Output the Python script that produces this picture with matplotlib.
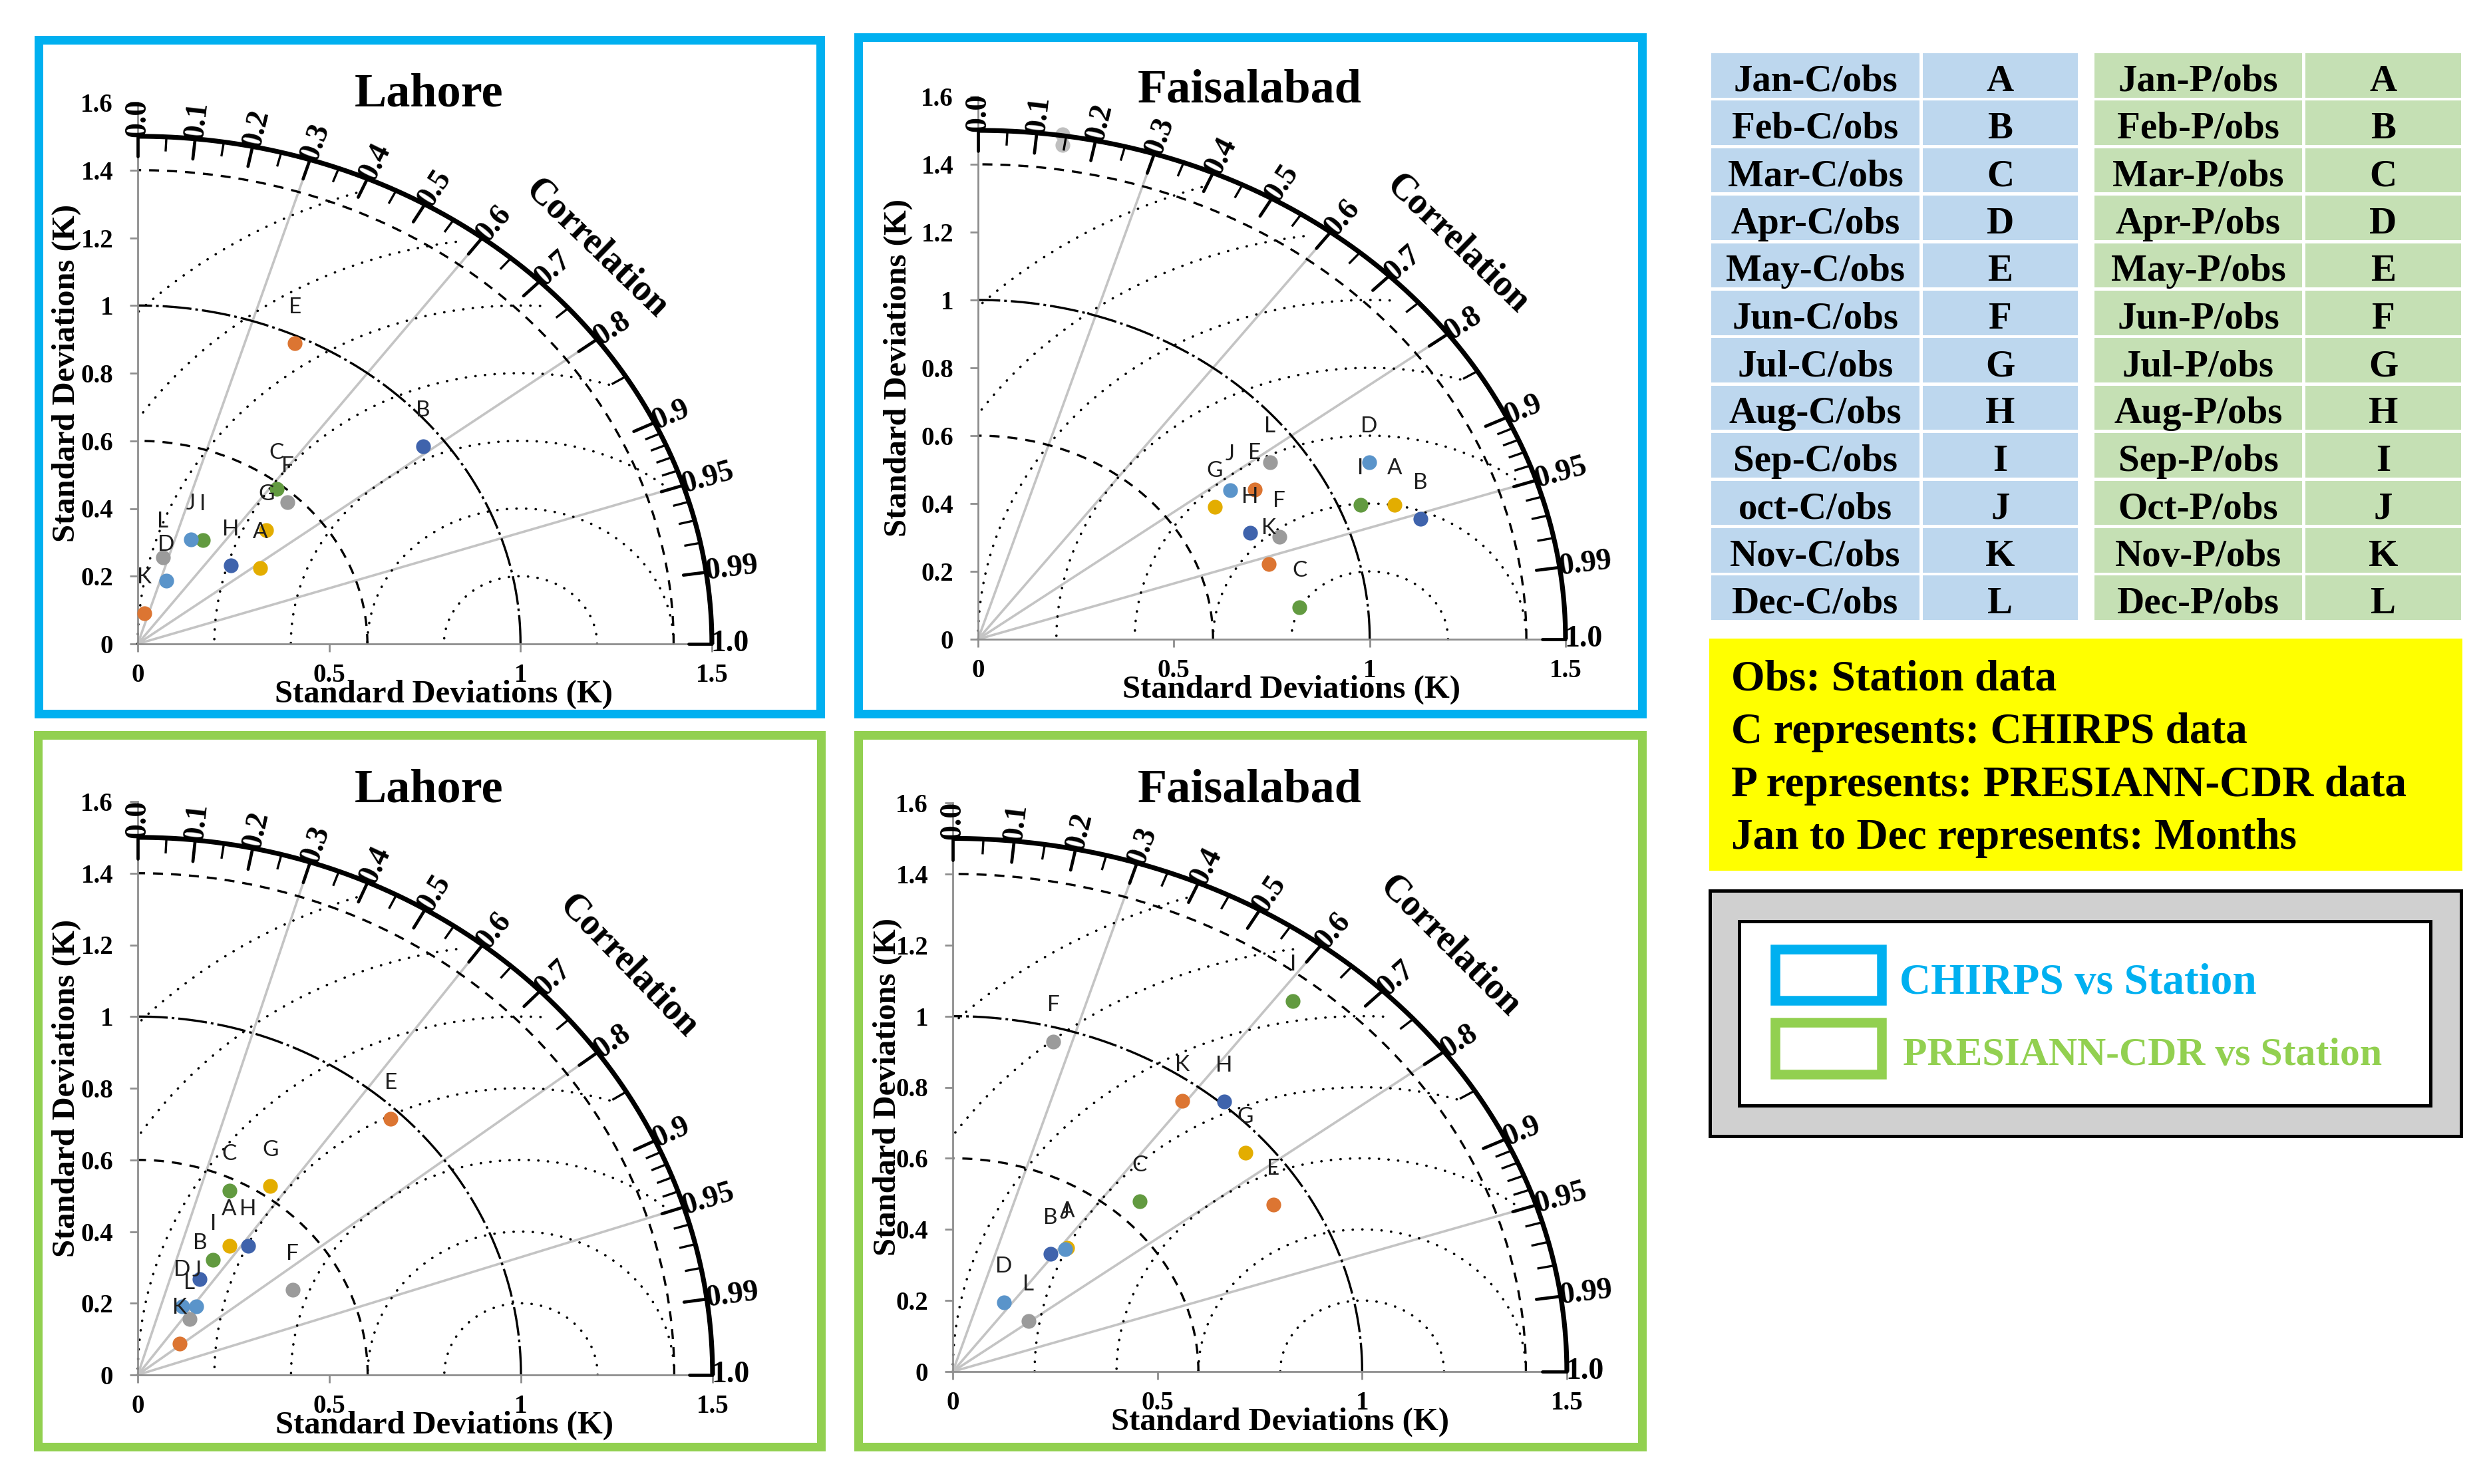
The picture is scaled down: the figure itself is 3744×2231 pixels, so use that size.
import numpy as np
import matplotlib
matplotlib.use("Agg")
import matplotlib.pyplot as plt
from matplotlib.patches import Rectangle

# Output size
W, H = 3744, 2231
DPI = 200
PT = 72.0 / DPI  # points per pixel

SERIF = "Liberation Serif"
SANS = "Lato"

# ---------------------------------------------------------------- data
letters = list("ABCDEFGHIJKL")
# marker colours repeat every six months (Excel palette order seen in the chart)
palette = {"yellow": "#E3AD00", "blue": "#3F63AC", "green": "#629A40",
           "lightblue": "#5A94CA", "orange": "#DC7532", "gray": "#9B9B9B"}
letter_colors = ["yellow", "blue", "green", "lightblue", "orange", "gray"] * 2

# points as (std*corr, std*sin(acos(corr))), months A..L
lahore_c_x = [0.320, 0.746, 0.363, 0.075, 0.411, 0.391, 0.336, 0.243, 0.170, 0.139, 0.017, 0.066]
lahore_c_y = [0.224, 0.583, 0.458, 0.187, 0.888, 0.418, 0.336, 0.232, 0.306, 0.308, 0.090, 0.255]

faisal_c_x = [1.063, 1.130, 0.821, 0.999, 0.706, 0.769, 0.604, 0.695, 0.976, 0.644, 0.743, 0.745]
faisal_c_y = [0.397, 0.355, 0.095, 0.522, 0.442, 0.301, 0.390, 0.314, 0.397, 0.439, 0.222, 0.522]
# two unlabelled light grey points near the top of the Faisalabad CHIRPS diagram
faisal_c_extra_x = [0.216, 0.216]
faisal_c_extra_y = [1.488, 1.457]

lahore_p_x = [0.239, 0.162, 0.239, 0.116, 0.660, 0.404, 0.346, 0.288, 0.197, 0.153, 0.109, 0.135]
lahore_p_y = [0.361, 0.267, 0.515, 0.192, 0.714, 0.237, 0.527, 0.361, 0.321, 0.191, 0.087, 0.155]

faisal_p_x = [0.280, 0.239, 0.456, 0.125, 0.783, 0.246, 0.715, 0.663, 0.831, 0.274, 0.560, 0.185]
faisal_p_y = [0.349, 0.331, 0.479, 0.194, 0.469, 0.929, 0.616, 0.759, 1.043, 0.345, 0.762, 0.143]

xticks = [0, 0.5, 1, 1.5]
xtick_labels = ["0", "0.5", "1", "1.5"]
yticks = [0, 0.2, 0.4, 0.6, 0.8, 1.0, 1.2, 1.4, 1.6]
ytick_labels = ["0", "0.2", "0.4", "0.6", "0.8", "1", "1.2", "1.4", "1.6"]

corr_major = [0.0, 0.1, 0.2, 0.3, 0.4, 0.5, 0.6, 0.7, 0.8, 0.9, 0.95, 0.99, 1.0]
corr_major_labels = ["0.0", "0.1", "0.2", "0.3", "0.4", "0.5", "0.6", "0.7",
                     "0.8", "0.9", "0.95", "0.99", "1.0"]
corr_minor = [0.05, 0.15, 0.25, 0.35, 0.45, 0.55, 0.65, 0.75, 0.85,
              0.91, 0.92, 0.93, 0.94, 0.96, 0.97, 0.98]
corr_rays = [0.3, 0.6, 0.8, 0.95]
rmsd_radii = [0.2, 0.4, 0.6, 0.8, 1.0, 1.2, 1.4]
std_arcs = [0.6, 1.0, 1.4]
std_max = 1.5

month_c = ["Jan-C/obs", "Feb-C/obs", "Mar-C/obs", "Apr-C/obs", "May-C/obs", "Jun-C/obs",
           "Jul-C/obs", "Aug-C/obs", "Sep-C/obs", "oct-C/obs", "Nov-C/obs", "Dec-C/obs"]
month_p = ["Jan-P/obs", "Feb-P/obs", "Mar-P/obs", "Apr-P/obs", "May-P/obs", "Jun-P/obs",
           "Jul-P/obs", "Aug-P/obs", "Sep-P/obs", "Oct-P/obs", "Nov-P/obs", "Dec-P/obs"]

notes = ["Obs: Station data", "C represents: CHIRPS data",
         "P represents: PRESIANN-CDR data", "Jan to Dec represents: Months"]
legend_labels = ["CHIRPS vs Station", "PRESIANN-CDR vs Station"]

BLUE_FRAME = "#00B0F0"
GREEN_FRAME = "#92D050"
AXIS_GRAY = "#8E8E8E"
RAY_GRAY = "#C4C4C4"


def draw_taylor(ax, xs, ys, ylabel_px, extra_x=(), extra_y=()):
    ax.set_xlim(0, 1.5)
    ax.set_ylim(0, 1.6)
    ax.set_facecolor("none")
    for s in ["top", "right"]:
        ax.spines[s].set_visible(False)
    for s in ["left", "bottom"]:
        ax.spines[s].set_color(AXIS_GRAY)
        ax.spines[s].set_linewidth(1.0)
    ax.set_xticks(xticks)
    ax.set_xticklabels(xtick_labels)
    ax.set_yticks(yticks)
    ax.set_yticklabels(ytick_labels)
    ax.tick_params(direction="out", length=4.3, width=1.0, color=AXIS_GRAY, labelsize=14)
    ax.tick_params(axis="x", pad=6)
    ax.tick_params(axis="y", pad=9)
    for lab in ax.get_xticklabels() + ax.get_yticklabels():
        lab.set_fontfamily(SERIF)
        lab.set_fontweight("bold")

    # RMSD arcs centred on the reference point (1, 0)
    R = 1.45
    for r in rmsd_radii:
        t0 = np.arccos(np.clip((R ** 2 - 1 - r ** 2) / (2 * r), -1, 1))
        t1 = np.arccos(np.clip(-1.0 / r, -1, 1))
        t = np.linspace(t0, t1, 300)
        ax.plot(1 + r * np.cos(t), r * np.sin(t), color="k", lw=1.3,
                ls=(0, (0.1, 3.9)), dash_capstyle="round", clip_on=False, zorder=2)

    # standard deviation arcs
    th = np.linspace(0, np.pi / 2, 400)
    styles = {0.6: (0, (4.5, 3.6)), 1.0: (0, (13, 1.8, 1.2, 1.8)), 1.4: (0, (4.5, 3.6))}
    for r in std_arcs:
        ax.plot(r * np.cos(th), r * np.sin(th), color="k", lw=1.2, ls=styles[r],
                clip_on=False, zorder=2)

    # correlation rays
    for c in corr_rays:
        a = np.arccos(c)
        ax.plot([0, 1.45 * np.cos(a)], [0, 1.45 * np.sin(a)], color=RAY_GRAY,
                lw=1.3, clip_on=False, zorder=1.5)

    # outer correlation axis
    ax.plot(std_max * np.cos(th), std_max * np.sin(th), color="k", lw=2.6,
            solid_capstyle="butt", clip_on=False, zorder=5)
    for c in corr_major:
        a = np.arccos(c)
        ax.plot([1.44 * np.cos(a), std_max * np.cos(a)], [1.44 * np.sin(a), std_max * np.sin(a)],
                color="k", lw=1.7, solid_capstyle="round", clip_on=False, zorder=5)
    for c in corr_minor:
        a = np.arccos(c)
        ax.plot([1.457 * np.cos(a), std_max * np.cos(a)], [1.457 * np.sin(a), std_max * np.sin(a)],
                color="k", lw=1.2, solid_capstyle="butt", clip_on=False, zorder=5)
    for c, lab in zip(corr_major, corr_major_labels):
        a = np.arccos(c)
        ax.text(1.497 * np.cos(a), 1.497 * np.sin(a), lab, rotation=np.degrees(a),
                transform_rotates_text=True, rotation_mode="anchor", ha="left", va="center",
                fontsize=16.5, fontfamily=SERIF, fontweight="bold", clip_on=False, zorder=6)

    # axis titles
    ax.annotate("Standard Deviations (K)", (0.8, 0), xytext=(0, -88 * PT),
                textcoords="offset points", ha="center", va="baseline",
                fontsize=17.5, fontfamily=SERIF, fontweight="bold", annotation_clip=False)
    ax.annotate("Standard Deviations (K)", (0, 0.8), xytext=(-ylabel_px * PT, 0),
                textcoords="offset points", ha="center", va="baseline", rotation=90,
                rotation_mode="anchor", fontsize=17.5, fontfamily=SERIF, fontweight="bold",
                annotation_clip=False)

    # data points
    for x, y in zip(extra_x, extra_y):
        ax.plot(x, y, "o", ms=8, color="#BFBFBF", mec="none", clip_on=False, zorder=4)
    for x, y, col, let in zip(xs, ys, letter_colors, letters):
        ax.plot(x, y, "o", ms=8, color=palette[col], mec="none", clip_on=False, zorder=6)
        ax.annotate(let, (x, y), xytext=(0, 19.5), textcoords="offset points",
                    ha="center", va="center", fontsize=12, fontfamily=SANS,
                    color="#1E1E1E", zorder=7, annotation_clip=False)


fig = plt.figure(figsize=(W / DPI, H / DPI), dpi=DPI)

# panel geometry in pixels: origin x, x at std 1.5, origin y, y at std 1.6
panels = [
    dict(geom=(207, 1070, 968, 154), xs=lahore_c_x, ys=lahore_c_y, ylab=95,
         frame=(58, 60, 1233, 1073), color=BLUE_FRAME, title="Lahore", tpos=(645, 159),
         cpos=(897, 374), crot=-44, ex=(), ey=()),
    dict(geom=(1470, 2353, 961, 145), xs=faisal_c_x, ys=faisal_c_y, ylab=108,
         frame=(1290, 56, 2468, 1073), color=BLUE_FRAME, title="Faisalabad", tpos=(1878, 154),
         cpos=(2191, 367), crot=-44, ex=faisal_c_extra_x, ey=faisal_c_extra_y),
    dict(geom=(207, 1071, 2067, 1205), xs=lahore_p_x, ys=lahore_p_y, ylab=95,
         frame=(57, 1105, 1234, 2175), color=GREEN_FRAME, title="Lahore", tpos=(645, 1205),
         cpos=(945, 1452), crot=-46, ex=(), ey=()),
    dict(geom=(1432, 2355, 2062, 1207), xs=faisal_p_x, ys=faisal_p_y, ylab=86,
         frame=(1290, 1105, 2468, 2175), color=GREEN_FRAME, title="Faisalabad", tpos=(1878, 1205),
         cpos=(2179, 1423), crot=-45, ex=(), ey=()),
]

for p in panels:
    x0, x15, y0, y16 = p["geom"]
    ax = fig.add_axes([x0 / W, 1 - y0 / H, (x15 - x0) / W, (y0 - y16) / H])
    draw_taylor(ax, p["xs"], p["ys"], p["ylab"], p["ex"], p["ey"])

# overlay in pixel coordinates for frames, titles and the legend boxes
ov = fig.add_axes([0, 0, 1, 1], zorder=10)
ov.set_xlim(0, W)
ov.set_ylim(H, 0)
ov.axis("off")
ov.patch.set_visible(False)

for p in panels:
    l, t, r, b = p["frame"]
    ov.add_patch(Rectangle((l, t), r - l, b - t, fill=False, ec=p["color"], lw=13 * PT))
    ov.text(p["tpos"][0], p["tpos"][1], p["title"], ha="center", va="baseline",
            fontsize=26, fontfamily=SERIF, fontweight="bold")
    ov.text(p["cpos"][0], p["cpos"][1], "Correlation", ha="center", va="center",
            rotation=p["crot"], rotation_mode="anchor", fontsize=20,
            fontfamily=SERIF, fontweight="bold")

# month / letter tables
row_top0, row_step, row_h = 80, 71.4, 66.5
tables = [((2572, 2885), (2890, 3123), month_c, "#BDD7EE"),
          ((3148, 3460), (3465, 3699), month_p, "#C5E0B4")]
for c1, c2, names, fc in tables:
    for i, (name, let) in enumerate(zip(names, letters)):
        top = row_top0 + i * row_step
        for (a, b), txt in ((c1, name), (c2, let)):
            ov.add_patch(Rectangle((a, top), b - a, row_h, fc=fc, ec="none"))
            ov.text((a + b) / 2, top + 56.6, txt, ha="center", va="baseline",
                    fontsize=20.5, fontfamily=SERIF, fontweight="bold")

# yellow notes box
ov.add_patch(Rectangle((2569, 960), 3701 - 2569, 1309 - 960, fc="#FFFF00", ec="none"))
for i, line in enumerate(notes):
    ov.text(2602, 1038 + i * 79.3, line, ha="left", va="baseline",
            fontsize=23.5, fontfamily=SERIF, fontweight="bold")

# frame legend
ov.add_patch(Rectangle((2570, 1339), 3699 - 2570, 1708 - 1339, fc="#D0D0D0", ec="k", lw=5 * PT))
ov.add_patch(Rectangle((2614, 1385), 3653 - 2614, 1662 - 1385, fc="white", ec="k", lw=5 * PT))
legend_sizes = [23.5, 21.5]
for i, (lab, col) in enumerate(zip(legend_labels, [BLUE_FRAME, GREEN_FRAME])):
    top = 1426.5 + i * 110.5
    ov.add_patch(Rectangle((2667.5, top), 2828 - 2667.5, 77.5, fill=False, ec=col, lw=14.5 * PT))
    ov.text(2855 + 5 * i, 1494 + i * 107.5, lab, ha="left", va="baseline", color=col,
            fontsize=legend_sizes[i], fontfamily=SERIF, fontweight="bold")

fig.savefig("out.png", dpi=DPI)
